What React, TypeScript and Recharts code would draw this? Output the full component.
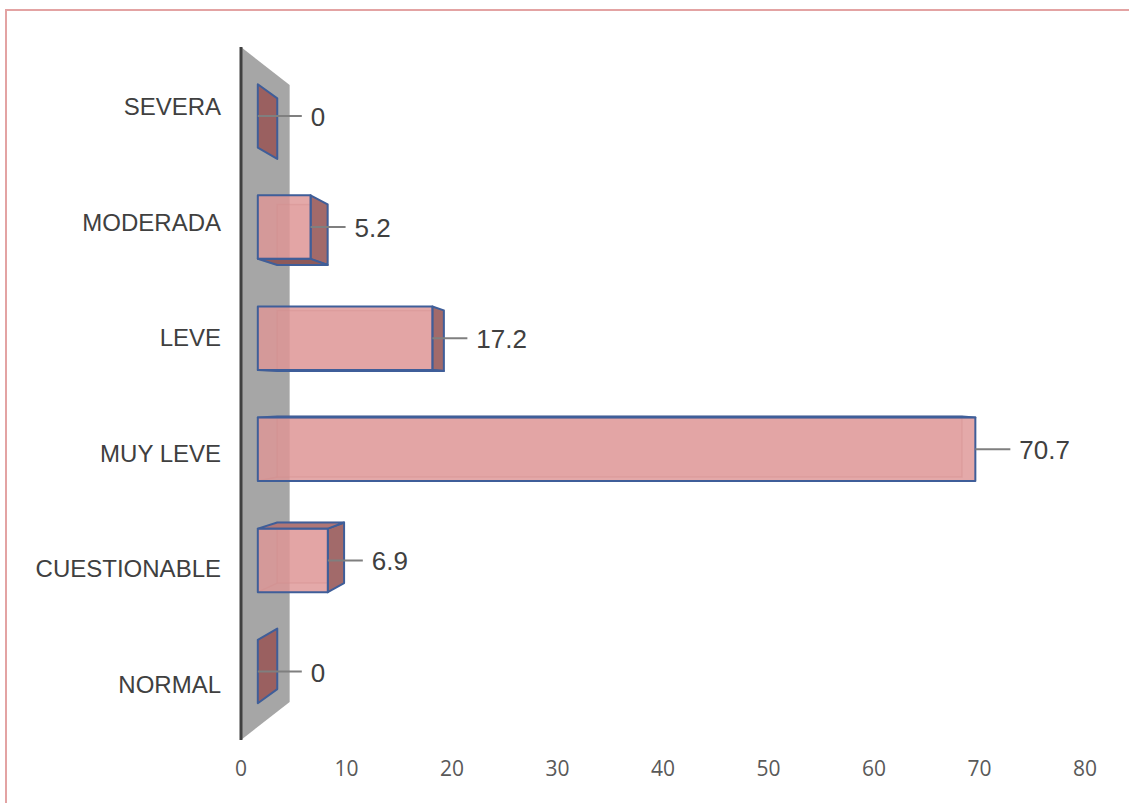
import React from 'react';
import { BarChart, Bar, XAxis, YAxis, ReferenceArea, LabelList } from 'recharts';

// Severity categories (top to bottom) and their percentages
const categories = ['SEVERA', 'MODERADA', 'LEVE', 'MUY LEVE', 'CUESTIONABLE', 'NORMAL'];
const values = [0, 5.2, 17.2, 70.7, 6.9, 0];
const xTicks = [0, 10, 20, 30, 40, 50, 60, 70, 80];

const data = categories.map((name, i) => ({ name, value: values[i] }));

// Chart geometry
const W = 1129;
const H = 803;
const MARGIN = { top: 47, right: 44, bottom: 33, left: 0 };
const Y_AXIS_W = 241;
const X_AXIS_H = 30;
const PLOT = {
  left: MARGIN.left + Y_AXIS_W,
  top: MARGIN.top,
  width: W - MARGIN.left - MARGIN.right - Y_AXIS_W,
  height: H - MARGIN.top - MARGIN.bottom - X_AXIS_H,
};

// Simple one-point perspective used for the 3D look
const VP = { x: PLOT.left + PLOT.width * 0.524, y: PLOT.top + PLOT.height * 0.5 };
const FRONT_T = 0.038;
const BACK_T = 0.082;
const WALL_T = 0.11;

type Pt = [number, number];
const proj = (x: number, y: number, t: number): Pt => [x + (VP.x - x) * t, y + (VP.y - y) * t];
const pts = (arr: Pt[]) => arr.map((p) => `${p[0].toFixed(2)},${p[1].toFixed(2)}`).join(' ');

const BLUE = '#3F5E99';
const FRONT_FILL = 'rgba(222,150,150,0.82)';
const SIDE_FILL = '#A26A6A';
const TOP_FILL = '#B07676';
const BOTTOM_FILL = '#8E5A5A';
const HIDDEN_EDGE = 'rgba(150,90,90,0.35)';

function Wall(props: any) {
  const { x, y, height } = props;
  const a = proj(x, y, 0);
  const b = proj(x, y, WALL_T);
  const c = proj(x, y + height, WALL_T);
  const d = proj(x, y + height, 0);
  return <polygon points={pts([a, b, c, d])} fill="#A6A6A6" stroke="none" />;
}

function Bar3D(props: any) {
  const { x, y, width, height } = props;
  if (x == null || y == null) return null;
  const X0 = x;
  const X1 = x + Math.max(0, width || 0);
  const Y0 = y;
  const Y1 = y + height;
  const A = proj(X0, Y0, FRONT_T);
  const B = proj(X1, Y0, FRONT_T);
  const C = proj(X1, Y1, FRONT_T);
  const D = proj(X0, Y1, FRONT_T);
  const A2 = proj(X0, Y0, BACK_T);
  const B2 = proj(X1, Y0, BACK_T);
  const C2 = proj(X1, Y1, BACK_T);
  const D2 = proj(X0, Y1, BACK_T);

  if (X1 - X0 < 0.5) {
    // zero-length bar: only the end slab at the axis is visible
    return (
      <polygon
        points={pts([A, A2, D2, D])}
        fill="#9A6060"
        stroke={BLUE}
        strokeWidth={2}
        strokeLinejoin="round"
      />
    );
  }

  const showRight = X1 < VP.x;
  const showTop = Y0 > VP.y;
  const showBottom = Y1 < VP.y;

  return (
    <g>
      {/* back edges seen through the translucent front */}
      <polygon points={pts([A2, B2, C2, D2])} fill="rgba(220,150,150,0.25)" stroke={HIDDEN_EDGE} strokeWidth={1.5} />
      <line x1={D[0]} y1={D[1]} x2={D2[0]} y2={D2[1]} stroke={HIDDEN_EDGE} strokeWidth={1.5} />
      {showRight && (
        <polygon points={pts([B, B2, C2, C])} fill={SIDE_FILL} stroke={BLUE} strokeWidth={2} strokeLinejoin="round" />
      )}
      {showTop && (
        <polygon points={pts([A, A2, B2, B])} fill={TOP_FILL} stroke={BLUE} strokeWidth={2} strokeLinejoin="round" />
      )}
      {showBottom && (
        <polygon points={pts([D, D2, C2, C])} fill={BOTTOM_FILL} stroke={BLUE} strokeWidth={2} strokeLinejoin="round" />
      )}
      <polygon points={pts([A, B, C, D])} fill={FRONT_FILL} stroke={BLUE} strokeWidth={2} strokeLinejoin="round" />
    </g>
  );
}

function ValueLabel(props: any) {
  const vb = props.viewBox || props;
  const x = vb.x ?? props.x;
  const y = vb.y ?? props.y;
  const width = vb.width ?? props.width ?? 0;
  const height = vb.height ?? props.height ?? 0;
  const value = props.value;
  if (x == null || y == null) return null;
  const [fx, fy] = proj(x + Math.max(0, width), y + height / 2, FRONT_T);
  const end = fx + (Number(value) === 0 ? 44 : 35);
  return (
    <g>
      <line x1={fx} y1={fy} x2={end} y2={fy} stroke="#7F7F7F" strokeWidth={2} />
      <text
        x={end + 9}
        y={fy + 1}
        dominantBaseline="central"
        fontSize={26}
        fill="#404040"
        fontFamily="'Liberation Sans', Arial, sans-serif"
      >
        {value}
      </text>
    </g>
  );
}

export default function App() {
  return (
    <div style={{ position: 'absolute', left: 0, top: 0, width: W, height: H, overflow: 'hidden', background: '#fff' }}>
      <div
        style={{
          position: 'absolute',
          left: 5,
          top: 9,
          width: W + 100,
          height: H + 100,
          border: '2px solid #E3A3A3',
          boxSizing: 'border-box',
        }}
      />
      <div style={{ position: 'absolute', left: 0, top: 0 }}>
        <BarChart width={W} height={H} data={data} layout="vertical" margin={MARGIN}>
          <ReferenceArea x1={0} x2={80} shape={<Wall />} ifOverflow="visible" />
          <XAxis
            type="number"
            domain={[0, 80]}
            ticks={xTicks}
            height={X_AXIS_H}
            axisLine={false}
            tickLine={false}
            tickSize={0}
            tickMargin={21}
            tick={{ fontSize: 21, fill: '#595959', fontFamily: "'Open Sans', sans-serif" }}
          />
          <YAxis
            type="category"
            dataKey="name"
            width={Y_AXIS_W}
            axisLine={{ stroke: '#404040', strokeWidth: 3 }}
            tickLine={false}
            tickSize={0}
            tickMargin={20}
            tick={{ fontSize: 24, fill: '#404040', fontFamily: "'Liberation Sans', Arial, sans-serif", dy: 2 }}
          />
          <Bar dataKey="value" barSize={66} shape={<Bar3D />} isAnimationActive={false}>
            <LabelList dataKey="value" content={<ValueLabel />} />
          </Bar>
        </BarChart>
      </div>
    </div>
  );
}
